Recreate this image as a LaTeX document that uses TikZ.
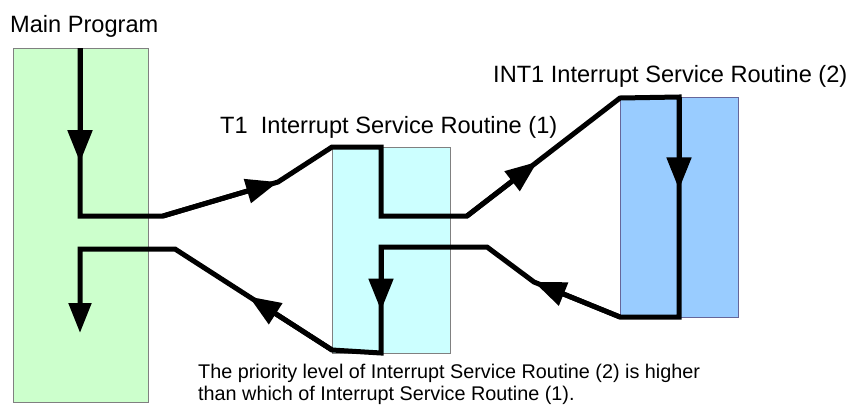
\documentclass[tikz,border=0pt]{standalone}
\usepackage{fontspec}
\setmainfont{Liberation Sans}
\usetikzlibrary{arrows.meta,calc}
\definecolor{maingreen}{HTML}{CCFFCC}
\definecolor{tonecyan}{HTML}{CCFFFF}
\definecolor{intblue}{HTML}{99CCFF}
\begin{document}
\begin{tikzpicture}[x=1pt, y=-1pt,
	routine/.style={draw=gray, inner sep=0pt, anchor=north west},
	flow/.style={line width=5pt, line join=miter},
	tip/.style={-{Triangle[length=32pt,width=24pt]}},
	caption/.style={anchor=base west, inner sep=0pt, font=\fontsize{23.6}{28}\selectfont}]
	\useasboundingbox (0,0) rectangle (852,408);
	\node[routine, fill=maingreen, minimum width=135pt, minimum height=354pt] (main) at (13,48) {};
	\node[routine, fill=tonecyan, minimum width=118pt, minimum height=206pt] (tone) at (332,147) {};
	\node[routine, fill=intblue, draw=gray!80!blue, minimum width=118pt, minimum height=220pt] (intr) at (620,97) {};
	\node[caption] (maintitle) at (10,32) {Main Program};
	\node[caption] (tonetitle) at (220,133) {T1\ \ Interrupt Service Routine (1)};
	\node[caption] (inttitle) at (493,82) {INT1 Interrupt Service Routine (2)};
	\node[anchor=north west, inner sep=0pt, align=left, font=\fontsize{19.8}{22}\selectfont] (note) at (198,363.5)
		{The priority level of Interrupt Service Routine (2) is higher\\than which of Interrupt Service Routine (1).};
	\coordinate (m0) at (80,48);
	\coordinate (m1) at (80,216);
	\coordinate (m2) at (163,216);
	\coordinate (k1) at (278,182);
	\coordinate (t0) at (332,147);
	\coordinate (t1) at (381,147);
	\coordinate (t2) at (381,216);
	\coordinate (t3) at (467,216);
	\coordinate (i0) at (620,98);
	\coordinate (i1) at (679,97);
	\coordinate (i2) at (679,317);
	\coordinate (i3) at (620,317);
	\coordinate (k2) at (534,282);
	\coordinate (t4) at (487,247);
	\coordinate (t5) at (381,247);
	\coordinate (t6) at (381,353);
	\coordinate (t7) at (332,350);
	\coordinate (m3) at (175,249);
	\coordinate (m4) at (80,249);
	\coordinate (m5) at (80,333);
	\draw[flow, -{Triangle[length=30pt,width=22pt]}] (m0) -- (m1) -- (m2) -- (k1) -- (t0) -- (t1) -- (t2) -- (t3) -- (i0) -- (i1) -- (i2) -- (i3) -- (k2) -- (t4) -- (t5) -- (t6) -- (t7) -- (m3) -- (m4) -- (m5);
	\foreach \a/\b/\p in {m0/m1/0.68, m2/k1/1, t3/i0/0.46, i1/i2/0.42, i3/k2/1, t5/t6/0.60, t7/m3/0.53}
		\draw[flow, tip] (\a) -- ($(\a)!\p!(\b)$);
\end{tikzpicture}
\end{document}
